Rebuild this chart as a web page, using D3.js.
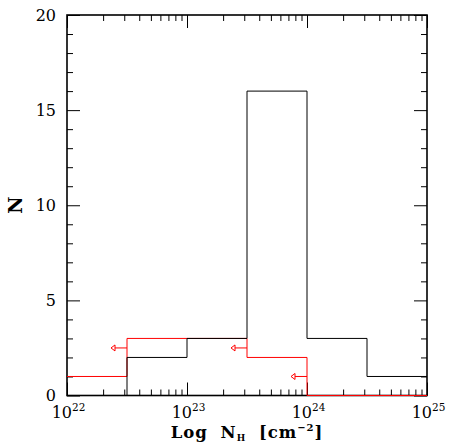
<!DOCTYPE html>
<html><head><meta charset="utf-8">
<script src="https://cdn.jsdelivr.net/npm/d3@7"></script>
<style>body{margin:0;background:#fff}svg{display:block}</style>
</head><body>
<svg id="c" width="449" height="442"></svg>
<script>
// Data
const binEdgesExp = [22, 22.5, 23, 23.5, 24, 24.5, 25];
const blackCounts = [0, 2, 3, 16, 3, 1];
const redCounts = [1, 3, 3, 2, 0, 0];
const upperLimitsExp = [22.5, 23.5, 24];
const upperLimitsN = [2.5, 2.5, 1];
const xTickExp = [22, 23, 24, 25];
const yTicks = [0, 5, 10, 15, 20];

const svg = d3.select("#c");
const L = 67, R = 427, T = 15, B = 395.5;
const x = d3.scaleLog().domain([1e22, 1e25]).range([L, R]);
const y = d3.scaleLinear().domain([0, 20]).range([B, T]);

const edges = binEdgesExp.map(e => Math.pow(10, e));
function stepData(counts) {
  const pts = counts.map((c, i) => [edges[i], c]);
  pts.push([edges[edges.length - 1], counts[counts.length - 1]]);
  return pts;
}
const line = d3.line().x(d => x(d[0])).y(d => y(d[1])).curve(d3.curveStepAfter);

// minor ticks
const minorX = [];
for (let d = 22; d < 25; d++) for (let k = 2; k <= 9; k++) minorX.push(k * Math.pow(10, d));
const majorX = xTickExp.map(e => Math.pow(10, e));
const minorY = d3.range(0, 21).filter(v => v % 5 !== 0);

function axis(gen, vals, size, tr) {
  svg.append("g").attr("transform", tr)
    .call(gen.tickValues(vals).tickSize(size).tickFormat(""))
    .call(g => g.select(".domain").remove())
    .selectAll("line").attr("stroke", "#000").attr("stroke-width", 1);
}
axis(d3.axisBottom(x), majorX, -13, `translate(0,${B})`);
axis(d3.axisBottom(x), minorX, -6, `translate(0,${B})`);
axis(d3.axisTop(x), majorX, -13, `translate(0,${T})`);
axis(d3.axisTop(x), minorX, -6, `translate(0,${T})`);
axis(d3.axisLeft(y), yTicks, -13, `translate(${L},0)`);
axis(d3.axisLeft(y), minorY, -6, `translate(${L},0)`);
axis(d3.axisRight(y), yTicks, -13, `translate(${R},0)`);
axis(d3.axisRight(y), minorY, -6, `translate(${R},0)`);

// frame
svg.append("rect").attr("x", L).attr("y", T).attr("width", R - L).attr("height", B - T)
  .attr("fill", "none").attr("stroke", "#000").attr("stroke-width", 1.6);

// histograms
svg.append("path").attr("d", line(stepData(redCounts)))
  .attr("fill", "none").attr("stroke", "#ff0000").attr("stroke-width", 1);
svg.append("path").attr("d", line(stepData(blackCounts)))
  .attr("fill", "none").attr("stroke", "#000").attr("stroke-width", 1);

// upper-limit arrows
upperLimitsExp.forEach((e, i) => {
  const x0 = x(Math.pow(10, e)), yy = y(upperLimitsN[i]);
  const tip = x0 - 16;
  const g = svg.append("g").attr("stroke", "#ff0000").attr("fill", "none").attr("stroke-width", 1);
  g.append("line").attr("x1", x0).attr("x2", tip + 4).attr("y1", yy).attr("y2", yy);
  g.append("path").attr("d", `M${tip + 4},${yy - 3}L${tip},${yy}L${tip + 4},${yy + 3}Z`);
});

const font = "'DejaVu Serif', serif";
// y tick labels
svg.selectAll(".yl").data(yTicks).enter().append("text")
  .attr("x", 56).attr("y", d => y(d)).attr("dy", "0.36em")
  .attr("text-anchor", "end").attr("font-family", font).attr("font-size", 16)
  .text(d => d);
// x tick labels
xTickExp.forEach(e => {
  const t = svg.append("text").attr("x", x(Math.pow(10, e)) + 1.5).attr("y", 418)
    .attr("text-anchor", "middle").attr("font-family", font).attr("font-size", 16);
  t.append("tspan").text("10");
  t.append("tspan").attr("dy", -7).attr("font-size", 10.5).text(e);
});
// axis titles
const xt = svg.append("text").attr("x", 247).attr("y", 438).attr("text-anchor", "middle")
  .attr("font-family", font).attr("font-weight", "bold").attr("font-size", 16.5)
  .attr("letter-spacing", 1).attr("word-spacing", 6);
xt.append("tspan").text("Log N");
xt.append("tspan").attr("dy", 3).attr("font-size", 9).text("H");
xt.append("tspan").attr("dy", -3).text(" [cm");
xt.append("tspan").attr("dy", -7).attr("font-size", 10).text("−2");
xt.append("tspan").attr("dy", 7).text("]");
svg.append("text").attr("transform", "translate(22,205) rotate(-90)")
  .attr("text-anchor", "middle").attr("font-family", font).attr("font-weight", "bold")
  .attr("font-size", 19).text("N");
</script>
</body></html>
